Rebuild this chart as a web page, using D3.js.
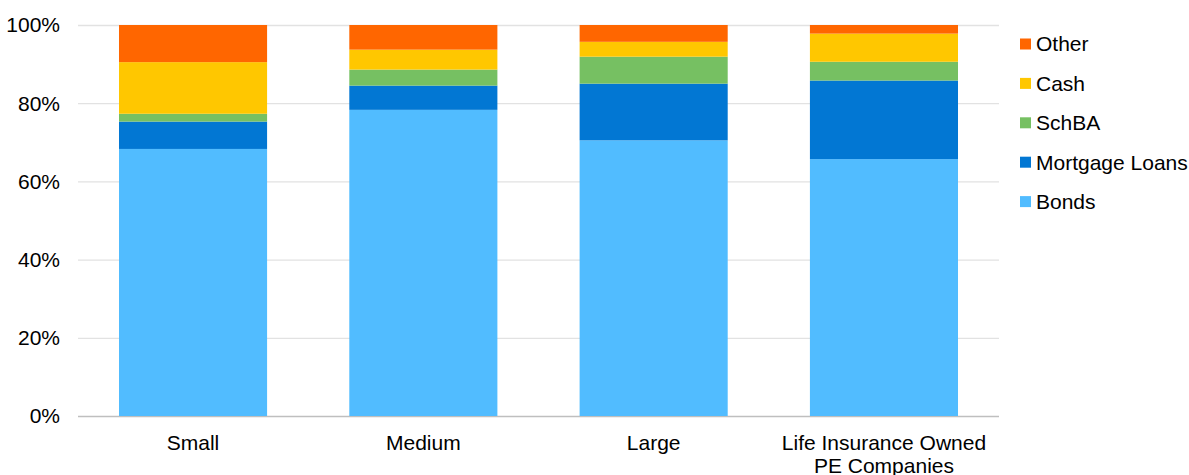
<!DOCTYPE html>
<html>
<head>
<meta charset="utf-8">
<script src="https://cdn.jsdelivr.net/npm/d3@7/dist/d3.min.js"></script>
<style>
  html, body { margin: 0; padding: 0; background: #fff; }
  svg { display: block; font-family: "Liberation Sans", Arial, sans-serif; }
</style>
</head>
<body>
<svg id="chart" width="1189" height="475"></svg>
<script>
// Asset allocation by company size (% of total)
const categories = ["Small", "Medium", "Large", "Life Insurance Owned\nPE Companies"];
const seriesNames = ["Bonds", "Mortgage Loans", "SchBA", "Cash", "Other"];
const bonds         = [68.3, 78.3, 70.5, 65.7];
const mortgageLoans = [7.0, 6.2, 14.5, 20.1];
const schBA         = [2.0, 4.1, 6.9, 4.8];
const cash          = [13.2, 5.1, 3.8, 7.2];
const other         = [9.5, 6.3, 4.3, 2.2];
const yTicks = [0, 20, 40, 60, 80, 100];
const colors = ["#51bcff", "#0277d3", "#76c062", "#ffc700", "#ff6600"];

const seriesValues = [bonds, mortgageLoans, schBA, cash, other];
const rows = categories.map((c, i) => {
  const r = { category: c };
  seriesNames.forEach((s, k) => { r[s] = seriesValues[k][i]; });
  return r;
});

const svg = d3.select("#chart");
const plotLeft = 78, plotRight = 999, plotTop = 25, plotBottom = 416;

const x = d3.scaleBand().domain(categories).range([plotLeft, plotRight]).paddingInner(0.357).paddingOuter(0.178);
const y = d3.scaleLinear().domain([0, 100]).range([plotBottom, plotTop]);
const color = d3.scaleOrdinal().domain(seriesNames).range(colors);

// gridlines
svg.append("g")
  .selectAll("line")
  .data(yTicks)
  .join("line")
  .attr("x1", plotLeft).attr("x2", plotRight)
  .attr("y1", d => y(d) + 0.5).attr("y2", d => y(d) + 0.5)
  .attr("stroke", d => d === 0 ? "#bfbfbf" : "#e2e2e2")
  .attr("stroke-width", 1.3);

// y axis labels
svg.append("g")
  .selectAll("text")
  .data(yTicks)
  .join("text")
  .attr("x", 60)
  .attr("y", d => y(d))
  .attr("dy", "0.35em")
  .attr("text-anchor", "end")
  .attr("font-size", 21)
  .attr("fill", "#000")
  .text(d => d + "%");

// stacked bars
const stacked = d3.stack().keys(seriesNames)(rows);
svg.append("g")
  .selectAll("g")
  .data(stacked)
  .join("g")
  .attr("fill", d => color(d.key))
  .selectAll("rect")
  .data(d => d)
  .join("rect")
  .attr("x", d => x(d.data.category))
  .attr("width", x.bandwidth())
  .attr("y", d => y(d[1]))
  .attr("height", d => y(d[0]) - y(d[1]));

// x axis labels
const xl = svg.append("g")
  .selectAll("text")
  .data(categories)
  .join("text")
  .attr("x", d => x(d) + x.bandwidth() / 2)
  .attr("y", 450)
  .attr("text-anchor", "middle")
  .attr("font-size", 21)
  .attr("fill", "#000");
xl.each(function(d) {
  const lines = d.split("\n");
  d3.select(this).selectAll("tspan")
    .data(lines)
    .join("tspan")
    .attr("x", x(d) + x.bandwidth() / 2)
    .attr("dy", (l, i) => i === 0 ? 0 : 22.5)
    .text(l => l);
});

// legend (top to bottom: Other ... Bonds)
const legendItems = seriesNames.slice().reverse();
const lg = svg.append("g")
  .selectAll("g")
  .data(legendItems)
  .join("g")
  .attr("transform", (d, i) => `translate(1020, ${44 + i * 39.4})`);
lg.append("rect")
  .attr("x", 0).attr("y", -5.5)
  .attr("width", 11).attr("height", 11)
  .attr("fill", d => color(d));
lg.append("text")
  .attr("x", 16).attr("y", 0)
  .attr("dy", "0.35em")
  .attr("font-size", 21)
  .attr("fill", "#000")
  .text(d => d);
</script>
</body>
</html>
